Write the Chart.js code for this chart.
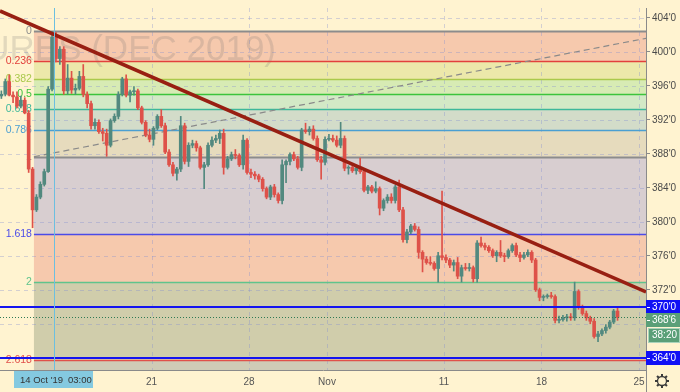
<!DOCTYPE html>
<html>
<head>
<meta charset="utf-8">
<script src="https://cdn.jsdelivr.net/npm/chart.js@4.4.0/dist/chart.umd.min.js"></script>
<style>
    html, body { margin: 0; padding: 0; background: #fff3d0; }
    #contenedor { width: 680px; height: 392px; }
</style>
</head>
<body>
<div id="contenedor"><canvas id="velasChart" width="680" height="392"></canvas></div>
<script>
// Velas [apertura, máximo, mínimo, cierre] - días hábiles desde 14 Oct 03:00
const diaInicio = -2.7;
const pasoBarra = 0.2;
const velas = [
    [394.8, 395.4, 394.5, 395.0], [395.0, 396.8, 394.8, 396.5], [396.5, 397.3, 394.8, 394.9],
    [394.9, 395.3, 394.0, 394.7], [394.7, 395.3, 393.4, 393.6], [393.6, 394.8, 393.4, 394.3],
    [394.3, 394.6, 392.7, 392.8], [392.8, 393.1, 385.8, 386.2], [386.2, 386.4, 379.3, 381.4],
    [381.4, 383.2, 381.2, 382.9], [382.9, 384.7, 382.7, 384.4], [384.4, 386.2, 384.2, 385.9],
    [385.9, 395.9, 385.8, 395.6], [395.6, 402.4, 395.4, 401.7], [401.7, 402.3, 398.8, 399.2],
    [399.2, 400.6, 398.5, 400.3], [400.3, 400.6, 395.0, 395.4], [395.4, 398.5, 395.0, 396.9],
    [396.9, 397.7, 395.1, 395.5], [395.5, 396.2, 395.0, 395.7], [395.7, 397.7, 395.5, 397.1],
    [397.1, 398.5, 394.7, 395.0], [395.0, 395.3, 393.4, 393.9], [393.9, 394.2, 390.9, 391.3],
    [391.3, 392.1, 390.9, 391.7], [391.7, 392.0, 390.4, 390.6], [390.6, 391.0, 389.5, 390.4],
    [390.4, 390.9, 387.7, 389.0], [389.0, 392.1, 388.8, 391.9], [391.9, 392.7, 391.7, 392.4],
    [392.4, 395.3, 392.1, 395.0], [395.0, 397.0, 394.8, 396.8], [396.8, 397.3, 394.7, 394.9],
    [394.9, 395.5, 394.1, 395.3], [395.3, 395.9, 394.9, 395.4], [395.4, 395.6, 393.2, 393.4],
    [393.4, 393.6, 391.5, 391.7], [391.7, 391.9, 390.0, 390.2], [390.2, 390.9, 389.4, 389.7],
    [389.7, 391.2, 389.0, 391.0], [391.0, 392.6, 390.8, 392.4], [392.4, 393.2, 391.1, 391.3],
    [391.3, 391.6, 388.0, 388.2], [388.2, 388.5, 386.5, 386.7], [386.7, 387.0, 385.4, 385.7],
    [385.7, 386.4, 384.9, 386.2], [386.2, 392.4, 385.9, 391.3], [391.3, 391.6, 386.8, 387.1],
    [387.1, 389.3, 386.5, 389.0], [389.0, 389.6, 388.7, 389.2], [389.2, 389.5, 388.3, 388.7],
    [388.7, 388.9, 386.2, 386.4], [386.4, 387.0, 383.9, 386.7], [386.7, 389.3, 386.5, 389.0],
    [389.0, 390.0, 388.8, 389.6], [389.6, 390.2, 389.3, 389.8], [389.8, 390.8, 389.2, 390.4],
    [390.4, 390.9, 385.6, 386.4], [386.4, 387.7, 386.2, 387.4], [387.4, 388.2, 387.2, 387.9],
    [387.9, 388.5, 387.4, 387.8], [387.8, 388.0, 386.5, 386.7], [386.7, 390.2, 386.2, 389.6],
    [389.6, 389.8, 385.6, 385.8], [385.8, 386.2, 385.2, 385.6], [385.6, 385.9, 385.0, 385.4],
    [385.4, 385.6, 384.7, 385.0], [385.0, 385.2, 383.6, 383.9], [383.9, 384.1, 382.7, 382.9],
    [382.9, 384.3, 382.6, 384.1], [384.1, 384.4, 382.9, 383.2], [383.2, 383.4, 382.2, 382.5],
    [382.5, 387.3, 382.1, 386.7], [386.7, 387.3, 384.6, 387.1], [387.1, 388.1, 386.7, 387.9],
    [387.9, 388.2, 387.2, 387.4], [387.4, 387.7, 386.2, 386.4], [386.4, 391.0, 386.0, 390.8],
    [390.8, 391.6, 390.4, 390.6], [390.6, 391.2, 390.2, 390.9], [390.9, 391.3, 389.6, 389.8],
    [389.8, 390.1, 387.1, 387.3], [387.3, 387.7, 385.0, 387.0], [387.0, 390.0, 386.7, 389.7],
    [389.7, 390.3, 389.5, 389.8], [389.8, 390.2, 389.4, 389.6], [389.6, 390.1, 388.8, 389.0],
    [389.0, 391.7, 388.7, 389.8], [389.8, 390.1, 386.0, 386.3], [386.3, 386.6, 385.6, 386.4],
    [386.4, 386.6, 385.8, 386.0], [386.0, 386.5, 385.6, 386.3], [386.3, 387.5, 385.7, 385.9],
    [385.9, 386.2, 383.5, 383.7], [383.7, 384.3, 383.3, 384.1], [384.1, 384.3, 383.4, 383.6],
    [383.6, 384.7, 383.4, 383.9], [383.9, 384.1, 380.8, 381.6], [381.6, 382.7, 381.3, 382.5],
    [382.5, 383.2, 382.2, 382.9], [382.9, 383.3, 382.2, 382.5], [382.5, 384.3, 382.2, 384.1],
    [384.1, 384.9, 381.2, 381.4], [381.4, 381.7, 377.6, 377.9], [377.9, 379.1, 377.5, 378.8],
    [378.8, 379.7, 378.6, 379.5], [379.5, 379.8, 378.9, 379.1], [379.1, 379.4, 375.7, 376.4],
    [376.4, 376.6, 374.1, 375.6], [375.6, 375.9, 375.0, 375.2], [375.2, 375.9, 374.9, 375.1],
    [375.1, 375.3, 374.3, 374.5], [374.5, 376.4, 372.9, 376.0], [376.0, 383.6, 375.5, 375.8],
    [375.8, 376.1, 375.2, 375.5], [375.5, 375.7, 374.6, 374.9], [374.9, 375.5, 374.2, 375.2],
    [375.2, 375.8, 373.3, 373.6], [373.6, 374.9, 372.9, 374.6], [374.6, 375.1, 374.3, 374.5],
    [374.5, 375.1, 374.2, 374.6], [374.6, 374.8, 372.9, 373.3], [373.3, 377.8, 372.9, 377.5],
    [377.5, 378.2, 377.0, 377.2], [377.2, 377.5, 376.7, 377.0], [377.0, 377.2, 376.4, 376.6],
    [376.6, 376.8, 375.8, 376.0], [376.0, 376.6, 375.3, 376.4], [376.4, 377.8, 375.8, 376.0],
    [376.0, 376.3, 375.3, 375.9], [375.9, 376.8, 375.7, 376.6], [376.6, 377.4, 376.4, 377.2],
    [377.2, 377.5, 375.9, 376.1], [376.1, 376.4, 375.3, 375.8], [375.8, 376.4, 375.6, 376.1],
    [376.1, 376.7, 375.9, 376.4], [376.4, 376.6, 375.2, 375.5], [375.5, 375.7, 371.8, 372.0],
    [372.0, 372.2, 370.7, 371.1], [371.1, 371.4, 370.7, 371.2], [371.2, 371.5, 371.0, 371.3],
    [371.3, 371.7, 371.0, 371.2], [371.2, 371.4, 368.1, 368.4], [368.4, 368.9, 368.1, 368.5],
    [368.5, 369.0, 368.3, 368.7], [368.7, 369.1, 368.3, 368.8], [368.8, 369.2, 368.4, 368.7],
    [368.7, 372.9, 368.4, 371.8], [371.8, 372.0, 369.7, 369.9], [369.9, 370.2, 369.0, 369.2],
    [369.2, 369.5, 368.4, 368.7], [368.7, 368.9, 368.0, 368.3], [368.3, 368.6, 366.3, 366.5],
    [366.5, 367.1, 365.9, 366.8], [366.8, 367.4, 366.6, 367.2], [367.2, 367.9, 366.9, 367.6],
    [367.6, 368.4, 367.4, 368.2], [368.2, 369.7, 368.0, 369.5], [369.5, 369.9, 368.4, 368.75]
];

// Ejes
const diaMin = -2.77;
const diaMax = 30.36;
const precioMin = 362.56;
const precioMax = 405.15;
const diasTicks = [0, 5, 10, 14, 20, 25, 30];
const etiquetasTicks = ['14', '21', '28', 'Nov', '11', '18', '25'];
const preciosTicks = [364, 368, 372, 376, 380, 384, 388, 392, 396, 400, 404];

// Retroceso de Fibonacci
const fibNiveles = [0, 0.236, 0.382, 0.5, 0.618, 0.786, 1, 1.618, 2, 2.618];
const fibPrecioCero = 402.4;
const fibPrecioUno = 387.65;
const fibDiaInicio = -1.03;
const fibDiaFin = 32.2;

// Líneas dibujadas
const lineaTendencia = [{ x: -2.77, y: 404.8 }, { x: 30.36, y: 371.75 }];
const lineasHorizontales = [370, 364];
const precioActual = 368.75;
const tiempoRestante = '38:20';
const textoCursor = ['14 Oct \'19', '03:00'];
const marcaAgua = 'CORN FUTURES (DEC 2019)';

// Estilos
const colorFondo = '#fff3d0';
const colorSube = '#52897f';
const colorBaja = '#de5149';
const fibColoresLinea = ['#8c8c8c', '#e2403c', '#aac94c', '#3cc43c', '#3db89a', '#4a9fd2', '#8c8c8c', '#4b4be8', '#5fc48c', '#e0504a'];
const fibColoresZona = ['#f6c9ad', '#ece8aa', '#d7ebb4', '#d3e9c6', '#d3dcc9', '#e6dbbd', '#d8ced0', '#f6c9ad', '#d0cdab'];
const colorZonaInferior = '#cfcbb6';
const fuente = '"Liberation Sans", Arial, sans-serif';

function formatoPrecio(v) {
    const entero = Math.floor(v + 1e-9);
    return entero + "'" + Math.round((v - entero) * 8);
}

function precioFib(r) {
    return fibPrecioCero - r * (fibPrecioCero - fibPrecioUno);
}

const pluginTradingView = {
    id: 'tradingView',
    beforeDraw(chart) {
        const { ctx, width, height } = chart;
        ctx.save();
        ctx.fillStyle = colorFondo;
        ctx.fillRect(0, 0, width, height);
        ctx.restore();
    },
    beforeDatasetsDraw(chart) {
        const { ctx, chartArea, scales: { x, y } } = chart;
        ctx.save();
        ctx.beginPath();
        ctx.rect(chartArea.left, chartArea.top, chartArea.right - chartArea.left, chartArea.bottom - chartArea.top);
        ctx.clip();

        const x0 = x.getPixelForValue(fibDiaInicio);
        const x1 = Math.min(x.getPixelForValue(fibDiaFin), chartArea.right);

        // Zonas
        for (let i = 0; i < fibNiveles.length - 1; i++) {
            const ya = y.getPixelForValue(precioFib(fibNiveles[i]));
            const yb = y.getPixelForValue(precioFib(fibNiveles[i + 1]));
            ctx.fillStyle = fibColoresZona[i];
            ctx.fillRect(x0, ya, x1 - x0, yb - ya);
        }
        const yUltimo = y.getPixelForValue(precioFib(fibNiveles[fibNiveles.length - 1]));
        ctx.fillStyle = colorZonaInferior;
        ctx.fillRect(x0, yUltimo, x1 - x0, chartArea.bottom - yUltimo);

        // Cuadrícula
        ctx.strokeStyle = 'rgba(130,140,210,0.35)';
        ctx.lineWidth = 1;
        ctx.setLineDash([4, 4]);
        preciosTicks.forEach(p => {
            const py = Math.round(y.getPixelForValue(p)) + 0.5;
            ctx.beginPath();
            ctx.moveTo(chartArea.left, py);
            ctx.lineTo(chartArea.right, py);
            ctx.stroke();
        });
        diasTicks.forEach(d => {
            const px = Math.round(x.getPixelForValue(d)) + 0.5;
            ctx.beginPath();
            ctx.moveTo(px, chartArea.top);
            ctx.lineTo(px, chartArea.bottom);
            ctx.stroke();
        });
        ctx.setLineDash([]);

        // Marca de agua
        ctx.font = '35px ' + fuente;
        ctx.fillStyle = 'rgba(110,110,110,0.2)';
        ctx.textAlign = 'right';
        ctx.textBaseline = 'alphabetic';
        ctx.fillText(marcaAgua, 276, 60);

        // Niveles y etiquetas
        ctx.font = '10.5px ' + fuente;
        ctx.textAlign = 'right';
        ctx.textBaseline = 'middle';
        fibNiveles.forEach((r, i) => {
            const py = Math.round(y.getPixelForValue(precioFib(r))) + 0.5;
            ctx.strokeStyle = fibColoresLinea[i];
            ctx.lineWidth = (r === 1 || r === 0) ? 2 : 1.3;
            ctx.beginPath();
            ctx.moveTo(x0, py);
            ctx.lineTo(x1, py);
            ctx.stroke();
            ctx.fillStyle = fibColoresLinea[i];
            ctx.fillText(String(r), x0 - 2, py);
        });
        ctx.restore();
    },
    afterDatasetsDraw(chart) {
        const { ctx, chartArea, scales: { x, y } } = chart;
        ctx.save();
        // Líneas horizontales azules
        ctx.strokeStyle = '#1414f0';
        ctx.lineWidth = 2;
        lineasHorizontales.forEach(p => {
            const py = Math.round(y.getPixelForValue(p));
            ctx.beginPath();
            ctx.moveTo(chartArea.left, py);
            ctx.lineTo(chartArea.right, py);
            ctx.stroke();
        });
        // Precio actual
        const pyA = Math.round(y.getPixelForValue(precioActual)) + 0.5;
        ctx.strokeStyle = '#2f7a55';
        ctx.lineWidth = 1;
        ctx.setLineDash([1, 2]);
        ctx.beginPath();
        ctx.moveTo(chartArea.left, pyA);
        ctx.lineTo(chartArea.right, pyA);
        ctx.stroke();
        ctx.setLineDash([]);
        // Cursor vertical
        const pxC = Math.round(x.getPixelForValue(0)) + 0.5;
        ctx.strokeStyle = '#6cbfe0';
        ctx.beginPath();
        ctx.moveTo(pxC, chartArea.top);
        ctx.lineTo(pxC, chartArea.bottom);
        ctx.stroke();
        ctx.restore();
    },
    afterDraw(chart) {
        const { ctx, chartArea, width, height, scales: { x, y } } = chart;
        ctx.save();
        // Prolongar el eje derecho
        ctx.strokeStyle = '#8a8a8a';
        ctx.lineWidth = 1;
        ctx.beginPath();
        ctx.moveTo(chartArea.right + 0.5, chartArea.bottom);
        ctx.lineTo(chartArea.right + 0.5, height);
        ctx.stroke();

        ctx.font = '10px ' + fuente;
        ctx.textBaseline = 'middle';
        ctx.textAlign = 'left';

        function etiquetaPrecio(p, color, centro) {
            ctx.fillStyle = color;
            ctx.fillRect(chartArea.right, centro - 7, width - chartArea.right, 14);
            ctx.strokeStyle = '#ffffff';
            ctx.beginPath();
            ctx.moveTo(chartArea.right + 1, centro + 0.5);
            ctx.lineTo(chartArea.right + 4, centro + 0.5);
            ctx.stroke();
            ctx.fillStyle = '#ffffff';
            ctx.fillText(formatoPrecio(p), chartArea.right + 6, centro + 0.5);
        }
        etiquetaPrecio(lineasHorizontales[0], '#1010f5', Math.round(y.getPixelForValue(lineasHorizontales[0])));
        etiquetaPrecio(lineasHorizontales[1], '#1010f5', Math.round(y.getPixelForValue(lineasHorizontales[1])));
        etiquetaPrecio(precioActual, '#5a9f78', Math.round(y.getPixelForValue(lineasHorizontales[0])) + 13);

        // Tiempo restante
        const yT = Math.round(y.getPixelForValue(lineasHorizontales[0])) + 28;
        ctx.fillStyle = '#5a9f78';
        ctx.fillRect(chartArea.right + 2, yT - 7, width - chartArea.right - 2, 15);
        ctx.strokeStyle = '#a9d3bb';
        ctx.strokeRect(chartArea.right + 2.5, yT - 6.5, width - chartArea.right - 3, 14);
        ctx.fillStyle = '#ffffff';
        ctx.fillText(tiempoRestante, chartArea.right + 6, yT + 0.5);

        // Etiqueta del cursor
        const pxC = x.getPixelForValue(0);
        ctx.fillStyle = '#84c9e0';
        ctx.fillRect(pxC - 40, chartArea.bottom + 1, 79, 17);
        ctx.fillStyle = '#333333';
        ctx.font = '9.5px ' + fuente;
        ctx.fillText(textoCursor[0], pxC - 34, chartArea.bottom + 10);
        ctx.fillText(textoCursor[1], pxC + 14, chartArea.bottom + 10);

        // Engranaje
        const gx = 662, gy = 381;
        ctx.strokeStyle = '#3a3a3a';
        ctx.lineWidth = 1.3;
        ctx.beginPath();
        ctx.arc(gx, gy, 4.5, 0, Math.PI * 2);
        ctx.stroke();
        ctx.lineWidth = 2;
        for (let i = 0; i < 8; i++) {
            const a = i * Math.PI / 4;
            ctx.beginPath();
            ctx.moveTo(gx + Math.cos(a) * 4.5, gy + Math.sin(a) * 4.5);
            ctx.lineTo(gx + Math.cos(a) * 7, gy + Math.sin(a) * 7);
            ctx.stroke();
        }
        ctx.restore();
    }
};

function inicializarGrafica() {
    const ctx = document.getElementById('velasChart').getContext('2d');
    const xVela = i => diaInicio + i * pasoBarra;
    const coloresVela = velas.map(v => v[3] >= v[0] ? colorSube : colorBaja);

    new Chart(ctx, {
        type: 'bar',
        data: {
            datasets: [
                {
                    type: 'line',
                    label: 'Tendencia',
                    data: lineaTendencia,
                    borderColor: '#981f12',
                    borderWidth: 3.5,
                    pointRadius: 0,
                    clip: 0,
                    order: 0
                },
                {
                    label: 'Cuerpo',
                    data: velas.map((v, i) => ({ x: xVela(i), y: [v[0], v[3]] })),
                    backgroundColor: coloresVela,
                    barThickness: 3,
                    minBarLength: 1,
                    grouped: false,
                    order: 1
                },
                {
                    label: 'Mecha',
                    data: velas.map((v, i) => ({ x: xVela(i), y: [v[2], v[1]] })),
                    backgroundColor: coloresVela,
                    barThickness: 1,
                    grouped: false,
                    order: 2
                },
                {
                    type: 'line',
                    label: 'Fibonacci',
                    data: [{ x: fibDiaInicio, y: fibPrecioUno }, { x: fibDiaFin, y: fibPrecioCero }],
                    borderColor: '#8a8a8a',
                    borderWidth: 1.2,
                    borderDash: [6, 4],
                    pointRadius: 0,
                    clip: 0,
                    order: 3
                }
            ]
        },
        options: {
            responsive: false,
            maintainAspectRatio: false,
            animation: false,
            devicePixelRatio: 1,
            layout: { padding: 0 },
            plugins: {
                legend: { display: false },
                tooltip: { enabled: false }
            },
            scales: {
                x: {
                    type: 'linear',
                    min: diaMin,
                    max: diaMax,
                    offset: false,
                    grid: { drawOnChartArea: false, drawTicks: false, offset: false },
                    border: { color: '#8a8a8a' },
                    afterBuildTicks: escala => { escala.ticks = diasTicks.map(v => ({ value: v })); },
                    afterFit: escala => { escala.height = 22; },
                    ticks: {
                        callback: (v, i) => etiquetasTicks[i],
                        color: '#555555',
                        font: { size: 10, family: fuente },
                        padding: 6,
                        maxRotation: 0,
                        autoSkip: false
                    }
                },
                y: {
                    position: 'right',
                    min: precioMin,
                    max: precioMax,
                    grid: { drawOnChartArea: false, tickLength: 4, color: '#8a8a8a' },
                    border: { color: '#8a8a8a' },
                    afterBuildTicks: escala => { escala.ticks = preciosTicks.map(v => ({ value: v })); },
                    afterFit: escala => { escala.width = 34; },
                    ticks: {
                        callback: v => formatoPrecio(v),
                        color: '#4a4a4a',
                        font: { size: 10, family: fuente },
                        padding: 2,
                        autoSkip: false
                    }
                }
            }
        },
        plugins: [pluginTradingView]
    });
}

document.addEventListener('DOMContentLoaded', () => {
    inicializarGrafica();
});
</script>
</body>
</html>
